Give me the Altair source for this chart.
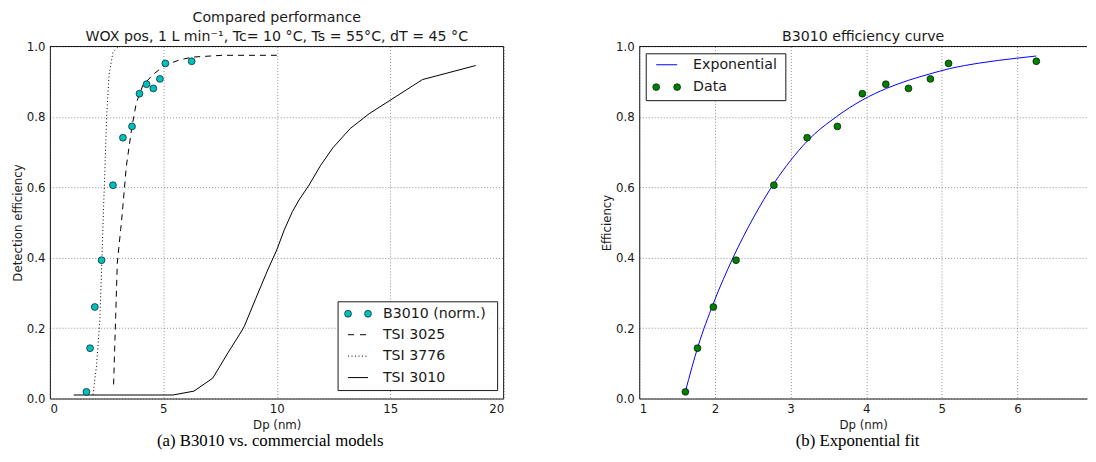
import altair as alt
import pandas as pd

# ---------------- data ----------------
# B3010 (normalised) measured efficiency
b3010_dp = [1.61, 1.77, 1.98, 2.28, 2.78, 3.22, 3.62, 3.95, 4.26, 4.56, 4.85, 5.09, 6.25]
b3010_eff = [0.019, 0.143, 0.260, 0.393, 0.606, 0.741, 0.773, 0.866, 0.893, 0.881, 0.908, 0.952, 0.958]

# TSI 3025 (dashed)
tsi3025_dp = [2.81, 2.85, 2.90, 2.97, 3.12, 3.19, 3.37, 3.62, 3.81, 4.10, 4.54, 5.05, 5.71, 6.30, 7.60, 10.0]
tsi3025_eff = [0.04, 0.13, 0.233, 0.384, 0.48, 0.526, 0.66, 0.773, 0.84, 0.89, 0.92, 0.946, 0.962, 0.970, 0.975, 0.975]

# TSI 3776 (dotted)
tsi3776_dp = [1.90, 2.05, 2.20, 2.27, 2.35, 2.42, 2.50, 2.61, 2.78, 3.00]
tsi3776_eff = [0.011, 0.09, 0.22, 0.35, 0.51, 0.64, 0.80, 0.92, 0.984, 0.998]

# TSI 3010 (solid)
tsi3010_dp = [1.05, 5.42, 6.35, 7.18, 7.84, 8.35, 8.57, 9.08, 9.60, 10.0, 10.33, 10.69,
              10.98, 11.42, 11.94, 12.47, 13.24, 14.07, 16.42, 18.77]
tsi3010_eff = [0.010, 0.010, 0.021, 0.058, 0.129, 0.181, 0.205, 0.285, 0.365, 0.422, 0.479, 0.531,
               0.564, 0.606, 0.663, 0.712, 0.767, 0.809, 0.906, 0.946]

# Exponential fit curve (right panel)
fit_dp = [1.61, 1.78, 1.98, 2.24, 2.50, 2.79, 3.00, 3.22, 3.61, 3.95, 4.27, 4.56, 4.84, 5.10, 5.50, 6.00, 6.25]
fit_eff = [0.02, 0.15, 0.27, 0.40, 0.51, 0.614, 0.676, 0.731, 0.801, 0.848, 0.881, 0.904, 0.922, 0.937, 0.953, 0.967, 0.973]

left_x_ticks = [0, 5, 10, 15, 20]
right_x_ticks = [1, 2, 3, 4, 5, 6]
y_ticks = [0.0, 0.2, 0.4, 0.6, 0.8, 1.0]

left_legend_labels = ["B3010 (norm.)", "TSI 3025", "TSI 3776", "TSI 3010"]
right_legend_labels = ["Exponential", "Data"]

left_title = ["Compared performance", "WOX pos, 1 L min\u207b\u00b9, Tc= 10 \u00b0C, Ts = 55\u00b0C, dT = 45 \u00b0C"]
right_title = "B3010 efficiency curve"
left_caption = "(a) B3010 vs. commercial models"
right_caption = "(b) Exponential fit"

# ---------------- style ----------------
FONT = "DejaVu Sans"
SERIF = "Liberation Serif"
TEAL = "#00BFBF"
GREEN = "#008000"
BLUE = "#0000FF"
INK = "#1a1a1a"
LW = 455
RW = 449
PX_PER_UNIT_R = 75.84
H = 353
LEG_FS = 14.2
PT_SIZE = 48
CAP_FS = 16.8
CAP_Y = 396
TITLE_OFFSET = -3

one = pd.DataFrame({"k": [0]})


def df(x, y):
    return pd.DataFrame({"dp": x, "eff": y})


def xenc(dom, ticks):
    return alt.X("dp:Q", scale=alt.Scale(domain=dom, nice=False, zero=False),
                 axis=alt.Axis(values=ticks, format="d", title="Dp (nm)"))


def yenc(ttl):
    return alt.Y("eff:Q", scale=alt.Scale(domain=[0, 1], nice=False),
                 axis=alt.Axis(values=y_ticks, format=".1f", title=ttl))


def frame_rule(x0, x1, y0, y1):
    enc = dict(x=alt.value(x0), y=alt.value(y0))
    if x1 is not None:
        enc["x2"] = alt.value(x1)
    if y1 is not None:
        enc["y2"] = alt.value(y1)
    return alt.Chart(one).mark_rule(color=INK, strokeWidth=1).encode(**enc)


def legend_layers(box, rows, sym_x0, sym_x1, text_x, labels, kinds):
    layers = [alt.Chart(one).mark_rect(fill="white", stroke=INK, strokeWidth=1).encode(
        x=alt.value(box[0]), x2=alt.value(box[1]), y=alt.value(box[2]), y2=alt.value(box[3]))]
    for lab, yy, kind in zip(labels, rows, kinds):
        if kind[0] == "pt":
            for xx in (sym_x0, sym_x1):
                layers.append(alt.Chart(one).mark_point(
                    shape="circle", filled=True, fill=kind[1], stroke="black", strokeWidth=0.6,
                    size=PT_SIZE, opacity=1).encode(x=alt.value(xx), y=alt.value(yy)))
        else:
            mk = dict(color=kind[1], strokeWidth=1)
            if kind[2] is not None:
                mk["strokeDash"] = kind[2]
            layers.append(alt.Chart(one).mark_rule(**mk).encode(
                x=alt.value(sym_x0), x2=alt.value(sym_x1), y=alt.value(yy)))
        layers.append(alt.Chart(one).mark_text(
            font=FONT, fontSize=LEG_FS, align="left", baseline="middle", color=INK).encode(
            x=alt.value(text_x), y=alt.value(yy), text=alt.value(lab)))
    return layers


def title(text, **kw):
    return alt.TitleParams(text=text, font=FONT, fontSize=LEG_FS, fontWeight="normal",
                           color=INK, anchor="middle", frame="group", offset=TITLE_OFFSET, **kw)


# ---------------- left panel ----------------
lx = xenc([0, 20], left_x_ticks)
ly = yenc("Detection efficiency")

l3010 = alt.Chart(df(tsi3010_dp, tsi3010_eff)).mark_line(color="black", strokeWidth=1, clip=True).encode(x=lx, y=ly)
l3025 = alt.Chart(df(tsi3025_dp, tsi3025_eff)).mark_line(color="black", strokeWidth=1, strokeDash=[6, 5], clip=True).encode(x=lx, y=ly)
l3776 = alt.Chart(df(tsi3776_dp, tsi3776_eff)).mark_line(color="black", strokeWidth=1, strokeDash=[1, 2.5], clip=True).encode(x=lx, y=ly)
lpts = alt.Chart(df(b3010_dp, b3010_eff)).mark_point(
    shape="circle", filled=True, fill=TEAL, stroke="black", strokeWidth=0.6, size=PT_SIZE, opacity=1
).encode(x=lx, y=ly)

left_leg = legend_layers(
    box=(289, 449, 256, 345), rows=[268, 289, 310.5, 332], sym_x0=299, sym_x1=319, text_x=334,
    labels=left_legend_labels,
    kinds=[("pt", TEAL), ("ln", "black", [6, 6]), ("ln", "black", [1, 2.5]), ("ln", "black", None)])

lcap = alt.Chart(one).mark_text(font=SERIF, fontSize=CAP_FS, align="center", baseline="middle", color="black").encode(
    x=alt.value(221), y=alt.value(CAP_Y), text=alt.value(left_caption))

left = alt.layer(
    l3025, l3776, l3010, lpts,
    frame_rule(0, LW, 0, None), frame_rule(LW, None, 0, H),
    *left_leg, lcap
).properties(width=LW, height=H, title=title(left_title, lineHeight=19))

# ---------------- right panel (its right edge runs off the picture) ----------------
rx = xenc([1, 1 + RW / PX_PER_UNIT_R], right_x_ticks)
ry = yenc("Efficiency")

rfit = alt.Chart(df(fit_dp, fit_eff)).mark_line(color=BLUE, strokeWidth=1, interpolate="monotone", clip=True).encode(x=rx, y=ry)
rpts = alt.Chart(df(b3010_dp, b3010_eff)).mark_point(
    shape="circle", filled=True, fill=GREEN, stroke="black", strokeWidth=0.6, size=PT_SIZE, opacity=1
).encode(x=rx, y=ry)

right_leg = legend_layers(
    box=(7, 147, 7.3, 54.3), rows=[18.3, 40.7], sym_x0=17, sym_x1=38, text_x=54,
    labels=right_legend_labels,
    kinds=[("ln", BLUE, None), ("pt", GREEN)])

rcap = alt.Chart(one).mark_text(font=SERIF, fontSize=CAP_FS, align="center", baseline="middle", color="black").encode(
    x=alt.value(219), y=alt.value(CAP_Y), text=alt.value(right_caption))

right = alt.layer(
    rfit, rpts, frame_rule(0, RW, 0, None), *right_leg, rcap
).properties(width=RW, height=H, title=title(right_title))

chart = alt.hconcat(left, right, spacing=136, bounds="flush").properties(
    padding={"left": 3, "top": 2, "right": 0, "bottom": 0}
).configure_view(
    stroke="transparent"
).configure_axis(
    labelFont=FONT, labelFontSize=11.8, labelColor=INK,
    titleFont=FONT, titleFontSize=11.8, titleFontWeight="normal", titleColor=INK,
    domain=True, domainColor=INK, domainWidth=1,
    ticks=False, labelPadding=5, titlePadding=3,
    grid=True, gridColor="#000000", gridOpacity=0.55, gridDash=[1, 2], gridWidth=0.8,
).configure_axisX(labelPadding=5, titlePadding=4)

chart.save("out.html", embed_options={"renderer": "svg", "actions": False})
